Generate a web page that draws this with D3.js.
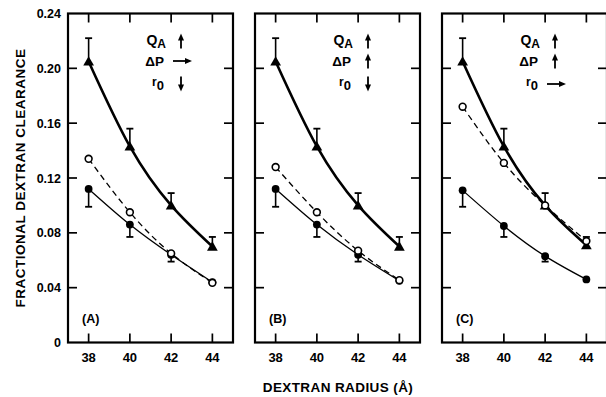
<!DOCTYPE html>
<html>
<head>
<meta charset="utf-8">
<script src="https://cdn.jsdelivr.net/npm/d3@7"></script>
<style>
  body { margin: 0; background: #fff; }
  text { font-family: "Liberation Sans", Arial, sans-serif; font-weight: bold; fill: #000; }
</style>
</head>
<body>
<div id="chart"></div>
<script>
// data
var radii = [38, 40, 42, 44];
var yTicks = [0, 0.04, 0.08, 0.12, 0.16, 0.20, 0.24];
var yTickLabels = ["0", "0.04", "0.08", "0.12", "0.16", "0.20", "0.24"];
var panelNames = ["(A)", "(B)", "(C)"];

// triangles (solid thick), with upward error bars
var triA = [0.205, 0.143, 0.100, 0.070];
var triB = [0.205, 0.143, 0.100, 0.070];
var triC = [0.205, 0.143, 0.100, 0.071];
var triErrTop = [0.222, 0.156, 0.109, 0.077];

// filled circles (solid thin), with downward error bars
var dotA = [0.112, 0.086, 0.064, 0.044];
var dotB = [0.112, 0.086, 0.064, 0.045];
var dotC = [0.111, 0.085, 0.063, 0.046];
var dotErrBot = [0.099, 0.077, 0.059, null];

// open circles (dashed)
var openA = [0.134, 0.095, 0.065, 0.0435];
var openB = [0.128, 0.095, 0.067, 0.0455];
var openC = [0.172, 0.131, 0.100, 0.074];

// legend arrow directions per panel
var legendLabels = ["Q", "ΔP", "r"];
var arrowsA = ["up", "right", "down"];
var arrowsB = ["up", "up", "down"];
var arrowsC = ["up", "up", "right"];

var panels = [
  {name: panelNames[0], tri: triA, dot: dotA, open: openA, arrows: arrowsA, left: 68},
  {name: panelNames[1], tri: triB, dot: dotB, open: openB, arrows: arrowsB, left: 255},
  {name: panelNames[2], tri: triC, dot: dotC, open: openC, arrows: arrowsC, left: 442}
];

var W = 606, H = 397;
var panelW = 165;
var yTop = 13.5, yBot = 342.5;

var svg = d3.select("#chart").append("svg")
  .attr("width", W).attr("height", H);

var y = d3.scaleLinear().domain([0, 0.24]).range([yBot, yTop]);

// y labels (only left panel)
svg.selectAll(".ylab")
  .data(yTicks)
  .enter()
  .append("text")
    .attr("x", 61)
    .attr("y", function(d) { return y(d) + 4.5; })
    .attr("text-anchor", "end")
    .style("font-size", "12.5px")
    .text(function(d, i) { return yTickLabels[i]; });

// y title
svg.append("text")
  .attr("transform", "translate(25," + ((yTop + yBot) / 2) + ") rotate(-90)")
  .attr("text-anchor", "middle")
  .style("font-size", "13.5px")
  .style("letter-spacing", "0.5px")
  .text("FRACTIONAL DEXTRAN CLEARANCE");

// x title
svg.append("text")
  .attr("x", 338)
  .attr("y", 392)
  .attr("text-anchor", "middle")
  .style("font-size", "13.5px")
  .style("letter-spacing", "0.4px")
  .text("DEXTRAN RADIUS (Å)");

var tickLen = 9;

function arrow(g, x, yc, dir) {
  var len = 15, head = 6;
  if (dir == "up" || dir == "down") {
    var s = dir == "up" ? -1 : 1;
    g.append("line")
      .attr("x1", x).attr("x2", x)
      .attr("y1", yc - s * len / 2).attr("y2", yc + s * (len / 2 - head))
      .attr("stroke", "#000").attr("stroke-width", 1.8);
    g.append("path")
      .attr("d", "M" + (x - 3) + "," + (yc + s * (len / 2 - head - 1)) +
                 "L" + x + "," + (yc + s * len / 2) +
                 "L" + (x + 3) + "," + (yc + s * (len / 2 - head - 1)) + "Z")
      .attr("fill", "#000");
  } else {
    var x0 = x - 9, x1 = x + 10;
    g.append("line")
      .attr("x1", x0).attr("x2", x1 - 5)
      .attr("y1", yc).attr("y2", yc)
      .attr("stroke", "#000").attr("stroke-width", 1.8);
    g.append("path")
      .attr("d", "M" + (x1 - 7) + "," + (yc - 3) + "L" + x1 + "," + yc +
                 "L" + (x1 - 7) + "," + (yc + 3) + "Z")
      .attr("fill", "#000");
  }
}

panels.forEach(function(p) {
  var x = d3.scaleLinear().domain([37, 45]).range([p.left, p.left + panelW]);
  var g = svg.append("g");

  // frame
  g.append("rect")
    .attr("x", p.left).attr("y", yTop)
    .attr("width", panelW).attr("height", yBot - yTop)
    .attr("fill", "none").attr("stroke", "#000").attr("stroke-width", 2.2);

  // inward ticks
  radii.forEach(function(r) {
    g.append("line").attr("x1", x(r)).attr("x2", x(r))
      .attr("y1", yBot).attr("y2", yBot - tickLen)
      .attr("stroke", "#000").attr("stroke-width", 1.7);
    g.append("line").attr("x1", x(r)).attr("x2", x(r))
      .attr("y1", yTop).attr("y2", yTop + tickLen)
      .attr("stroke", "#000").attr("stroke-width", 1.7);
  });
  yTicks.slice(1, -1).forEach(function(t) {
    g.append("line").attr("x1", p.left).attr("x2", p.left + tickLen)
      .attr("y1", y(t)).attr("y2", y(t))
      .attr("stroke", "#000").attr("stroke-width", 1.7);
    g.append("line").attr("x1", p.left + panelW).attr("x2", p.left + panelW - tickLen)
      .attr("y1", y(t)).attr("y2", y(t))
      .attr("stroke", "#000").attr("stroke-width", 1.7);
  });

  // x tick labels
  g.selectAll(".xlab")
    .data(radii)
    .enter()
    .append("text")
      .attr("x", function(d) { return x(d); })
      .attr("y", 362)
      .attr("text-anchor", "middle")
      .style("font-size", "13px")
      .text(function(d) { return d; });

  // panel name
  g.append("text")
    .attr("x", p.left + 14)
    .attr("y", 323)
    .style("font-size", "12.5px")
    .text(p.name);

  var line = d3.line()
    .x(function(d, i) { return x(radii[i]); })
    .y(function(d) { return y(d); })
    .curve(d3.curveNatural);

  // curves
  g.append("path").attr("d", line(p.open))
    .attr("fill", "none").attr("stroke", "#000")
    .attr("stroke-width", 1.3).attr("stroke-dasharray", "6,4");
  g.append("path").attr("d", line(p.dot))
    .attr("fill", "none").attr("stroke", "#000").attr("stroke-width", 1.3);
  g.append("path").attr("d", line(p.tri))
    .attr("fill", "none").attr("stroke", "#000").attr("stroke-width", 2.6);

  // error bars
  radii.forEach(function(r, i) {
    var xe = x(r);
    g.append("line").attr("x1", xe).attr("x2", xe)
      .attr("y1", y(p.tri[i])).attr("y2", y(triErrTop[i]))
      .attr("stroke", "#000").attr("stroke-width", 1.6);
    g.append("line").attr("x1", xe - 3.5).attr("x2", xe + 3.5)
      .attr("y1", y(triErrTop[i])).attr("y2", y(triErrTop[i]))
      .attr("stroke", "#000").attr("stroke-width", 1.8);
    if (dotErrBot[i] !== null) {
      g.append("line").attr("x1", xe).attr("x2", xe)
        .attr("y1", y(p.dot[i])).attr("y2", y(dotErrBot[i]))
        .attr("stroke", "#000").attr("stroke-width", 1.6);
      g.append("line").attr("x1", xe - 3.5).attr("x2", xe + 3.5)
        .attr("y1", y(dotErrBot[i])).attr("y2", y(dotErrBot[i]))
        .attr("stroke", "#000").attr("stroke-width", 1.8);
    }
  });

  // markers
  var tri = d3.symbol().type(d3.symbolTriangle).size(50);
  g.selectAll(".tri").data(p.tri).enter().append("path")
    .attr("d", tri)
    .attr("transform", function(d, i) { return "translate(" + x(radii[i]) + "," + (y(d) + 1) + ")"; })
    .attr("fill", "#000");
  g.selectAll(".dot").data(p.dot).enter().append("circle")
    .attr("cx", function(d, i) { return x(radii[i]); })
    .attr("cy", function(d) { return y(d); })
    .attr("r", 3.9).attr("fill", "#000");
  g.selectAll(".open").data(p.open).enter().append("circle")
    .attr("cx", function(d, i) { return x(radii[i]); })
    .attr("cy", function(d) { return y(d); })
    .attr("r", 3.4).attr("fill", "#fff").attr("stroke", "#000").attr("stroke-width", 1.6);

  // legend
  var lx = p.left + 98, ax = p.left + 113;
  var rows = [45, 66, 89];
  var t0 = g.append("text").attr("x", lx).attr("y", rows[0])
    .attr("text-anchor", "end").style("font-size", "14px");
  t0.append("tspan").text(legendLabels[0]);
  t0.append("tspan").attr("dy", 3).style("font-size", "12px").text("A");
  g.append("text").attr("x", lx - 2).attr("y", rows[1])
    .attr("text-anchor", "end").style("font-size", "13.5px").text(legendLabels[1]);
  var t2 = g.append("text").attr("x", lx - 2).attr("y", rows[2])
    .attr("text-anchor", "end").style("font-size", "13px");
  t2.append("tspan").attr("dy", -3).style("font-size", "12px").text(legendLabels[2]);
  t2.append("tspan").attr("dy", 4).style("font-size", "13px").text("0");

  var arrowY = [41, 61, 84];
  p.arrows.forEach(function(dir, i) {
    arrow(g, dir == "right" ? ax + 1 : ax, arrowY[i], dir);
  });
});
</script>
</body>
</html>
